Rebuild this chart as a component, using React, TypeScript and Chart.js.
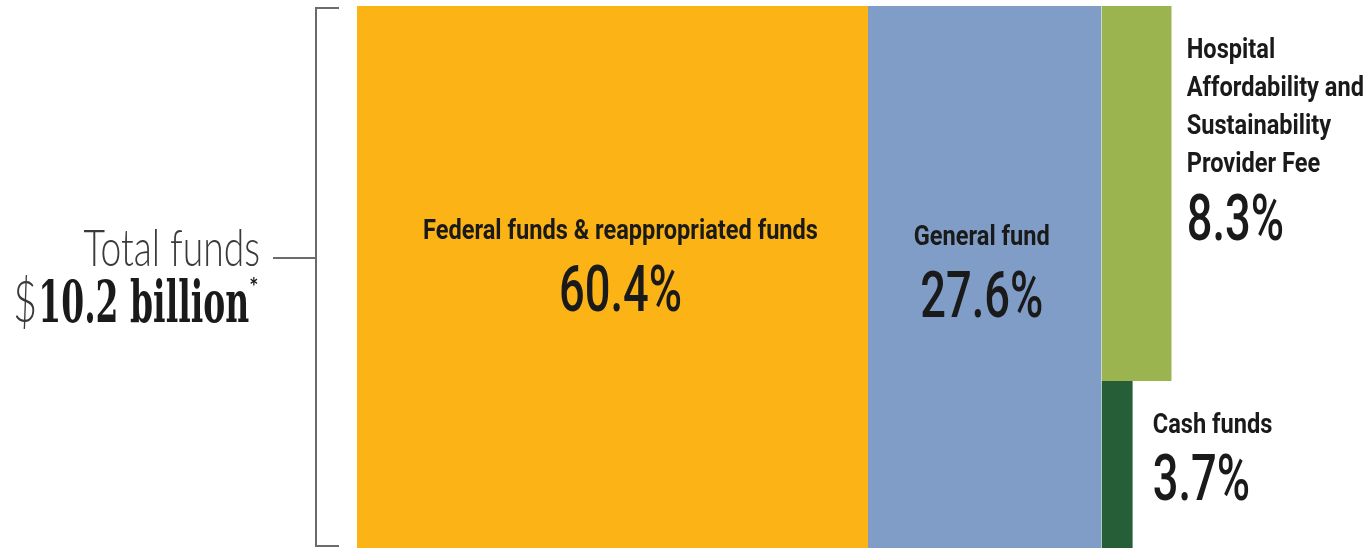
import { useEffect, useRef } from "react";
import { Chart, registerables } from "chart.js";

Chart.register(...registerables);

// ---- data ----
const categories = [
  "Federal funds & reappropriated funds",
  "General fund",
  "Hospital Affordability and Sustainability Provider Fee",
  "Cash funds",
];
const labelLines = [
  ["Federal funds & reappropriated funds"],
  ["General fund"],
  ["Hospital", "Affordability and", "Sustainability", "Provider Fee"],
  ["Cash funds"],
];
const shares = [60.4, 27.6, 8.3, 3.7];
const pctLabels = ["60.4%", "27.6%", "8.3%", "3.7%"];
const colors = ["#FCB316", "#7F9DC7", "#9BB450", "#265E37"];
const totalLabel = "Total funds";
const totalCurrency = "$";
const totalValue = "10.2 billion";
const totalNote = "*";

const LABEL_FONT = 'bold 28px Roboto, "Liberation Sans", sans-serif';
const PCT_FONT = '500 64px Roboto, "Liberation Sans", sans-serif';
const TEXT_COLOR = "#1a1a1a";

function drawFit(
  ctx: CanvasRenderingContext2D,
  text: string,
  x: number,
  y: number,
  font: string,
  sx: number,
  align: "left" | "center" | "right",
  color: string
) {
  ctx.save();
  ctx.font = font;
  ctx.fillStyle = color;
  ctx.textBaseline = "alphabetic";
  ctx.textAlign = "left";
  const w = ctx.measureText(text).width * sx;
  const left = align === "center" ? x - w / 2 : align === "right" ? x - w : x;
  ctx.translate(left, y);
  ctx.scale(sx, 1);
  ctx.fillText(text, 0, 0);
  ctx.restore();
  return w;
}

function measure(ctx: CanvasRenderingContext2D, text: string, font: string) {
  ctx.save();
  ctx.font = font;
  const w = ctx.measureText(text).width;
  ctx.restore();
  return w;
}

const labelPlugin = {
  id: "treemapLabels",
  afterDraw(chart: any) {
    const ctx: CanvasRenderingContext2D = chart.ctx;
    const xs = chart.scales.x;
    const area = chart.chartArea;
    const starts = [0, shares[0], shares[0] + shares[1], shares[0] + shares[1]];
    const px = (v: number) => xs.getPixelForValue(v);

    const lsx = 395 / measure(ctx, labelLines[0][0], LABEL_FONT);
    const psx = 123 / measure(ctx, pctLabels[0], PCT_FONT);

    // Federal
    const c0 = (px(starts[0]) + px(starts[0] + shares[0])) / 2 + 8;
    drawFit(ctx, labelLines[0][0], c0, 239, LABEL_FONT, lsx, "center", TEXT_COLOR);
    drawFit(ctx, pctLabels[0], c0, 311, PCT_FONT, psx, "center", TEXT_COLOR);

    // General
    const c1 = (px(starts[1]) + px(starts[1] + shares[1])) / 2 - 3;
    drawFit(ctx, labelLines[1][0], c1, 245, LABEL_FONT, lsx, "center", TEXT_COLOR);
    drawFit(ctx, pctLabels[1], c1, 317, PCT_FONT, psx, "center", TEXT_COLOR);

    // Hospital fee
    const l2 = px(starts[2] + shares[2]) + 15;
    labelLines[2].forEach((line, i) => {
      drawFit(ctx, line, l2, 58 + i * 38, LABEL_FONT, lsx, "left", TEXT_COLOR);
    });
    drawFit(ctx, pctLabels[2], l2, 240, PCT_FONT, psx, "left", TEXT_COLOR);

    // Cash
    const l3 = px(starts[3] + shares[3]) + 20;
    drawFit(ctx, labelLines[3][0], l3, 433, LABEL_FONT, lsx, "left", TEXT_COLOR);
    drawFit(ctx, pctLabels[3], l3, 500, PCT_FONT, psx, "left", TEXT_COLOR);

    // Bracket
    const bx = area.left - 41;
    const top = area.top + 2;
    const bottom = area.bottom - 2;
    const mid = 258;
    ctx.save();
    ctx.strokeStyle = "#6b6b6b";
    ctx.lineWidth = 2;
    ctx.beginPath();
    ctx.moveTo(bx + 23, top);
    ctx.lineTo(bx, top);
    ctx.lineTo(bx, bottom);
    ctx.lineTo(bx + 23, bottom);
    ctx.moveTo(bx - 43, mid);
    ctx.lineTo(bx, mid);
    ctx.stroke();
    ctx.restore();

    // Total
    const grey = "#3a3a3a";
    drawFit(ctx, totalLabel, 260, 266, '300 51px Lato, sans-serif', 0.73, "right", grey);
    const curW = drawFit(ctx, totalCurrency, 13, 322, '300 58px Lato, sans-serif', 0.72, "left", grey);
    const valFont = 'bold 58px "DejaVu Serif", serif';
    const valSx = 211 / measure(ctx, totalValue, valFont);
    const valW = drawFit(ctx, totalValue, 13 + curW + 1, 322, valFont, valSx, "left", TEXT_COLOR);
    drawFit(ctx, totalNote, 13 + curW + valW + 1, 296, 'bold 24px Lato, sans-serif', 0.9, "left", TEXT_COLOR);
  },
};

export default function App() {
  const ref = useRef<HTMLCanvasElement | null>(null);

  useEffect(() => {
    if (!ref.current) return;
    const splitY = (100 * shares[3]) / (shares[2] + shares[3]);
    const x0 = [0, shares[0], shares[0] + shares[1], shares[0] + shares[1]];
    const yTop = [100, 100, 100, splitY];
    const fills: any[] = ["origin", "origin", { value: splitY }, "origin"];

    const datasets = categories.map((name, i) => ({
      label: name,
      data: [
        { x: x0[i], y: yTop[i] },
        { x: x0[i] + shares[i], y: yTop[i] },
      ],
      fill: fills[i],
      backgroundColor: colors[i],
      borderColor: "rgba(0,0,0,0)",
      borderWidth: 0,
      pointRadius: 0,
      pointHoverRadius: 0,
      tension: 0,
    }));

    const chart = new Chart(ref.current, {
      type: "line",
      data: { datasets },
      options: {
        animation: false,
        responsive: false,
        events: [],
        layout: { padding: { left: 357, right: 166, top: 6, bottom: 0 } },
        plugins: {
          legend: { display: false },
          tooltip: { enabled: false },
          title: { display: false },
        },
        scales: {
          x: { type: "linear", min: 0, max: 100, display: false },
          y: { type: "linear", min: 0, max: 100, display: false },
        },
      },
      plugins: [labelPlugin],
    });
    return () => chart.destroy();
  }, []);

  return (
    <div
      style={{
        position: "fixed",
        left: 0,
        top: 0,
        width: 1369,
        height: 548,
        background: "#ffffff",
      }}
    >
      <canvas ref={ref} width={1369} height={548} style={{ display: "block" }} />
    </div>
  );
}
